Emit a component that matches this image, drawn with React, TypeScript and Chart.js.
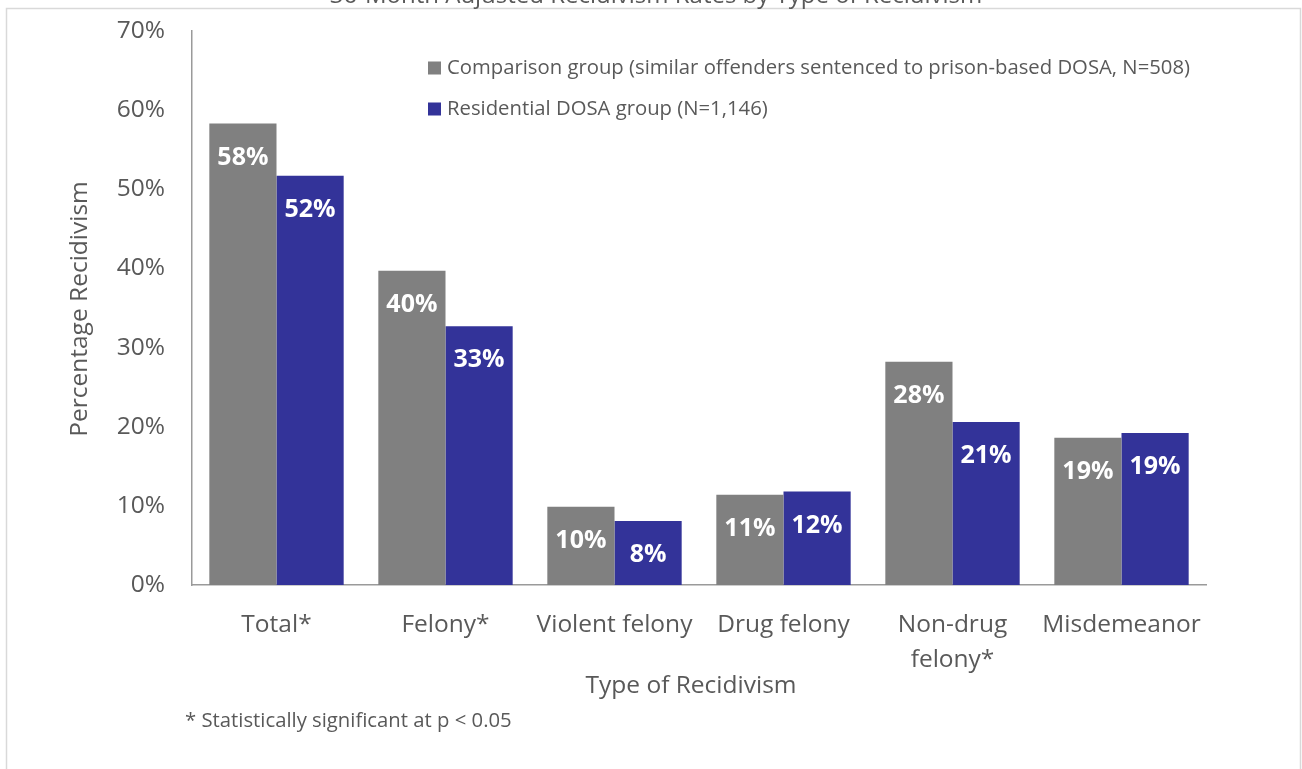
import React, { useEffect, useRef } from "react";
import { Chart, registerables } from "chart.js";

Chart.register(...registerables);

const chartTitle = "36-Month Adjusted Recidivism Rates by Type of Recidivism";
const categories: (string | string[])[] = [
  "Total*",
  "Felony*",
  "Violent felony",
  "Drug felony",
  ["Non-drug", "felony*"],
  "Misdemeanor",
];
const seriesNames = [
  "Comparison group (similar offenders sentenced to prison-based DOSA, N=508)",
  "Residential DOSA group (N=1,146)",
];
const comparisonValues = [58.3, 39.7, 9.9, 11.4, 28.2, 18.6];
const residentialValues = [51.7, 32.7, 8.1, 11.8, 20.6, 19.2];
const comparisonLabels = ["58%", "40%", "10%", "11%", "28%", "19%"];
const residentialLabels = ["52%", "33%", "8%", "12%", "21%", "19%"];
const yTicks = [0, 10, 20, 30, 40, 50, 60, 70];
const yAxisTitle = "Percentage Recidivism";
const xAxisTitle = "Type of Recidivism";
const footnote = "* Statistically significant at p < 0.05";

const GRAY = "#808080";
const BLUE = "#333399";
const TEXT = "#595959";
const FONT = "'Open Sans', 'Noto Sans', sans-serif";

const W = 1302;
const H = 769;
const PLOT_LEFT = 192;
const PLOT_RIGHT = 1206;
const PLOT_TOP = 31;
const PLOT_BOTTOM = 585;

export default function App() {
  const ref = useRef<HTMLCanvasElement | null>(null);

  useEffect(() => {
    document.body.style.margin = "0";
    const canvas = ref.current;
    if (!canvas) return;
    const valueLabels = [comparisonLabels, residentialLabels];

    const decor = {
      id: "decor",
      beforeDraw(chart: any) {
        const ctx = chart.ctx;
        ctx.save();
        ctx.fillStyle = "#ffffff";
        ctx.fillRect(0, 0, W, H);
        ctx.strokeStyle = "#d9d9d9";
        ctx.lineWidth = 1.5;
        ctx.strokeRect(6.5, 8.5, 1294, 800);
        ctx.fillStyle = TEXT;
        ctx.font = `24px ${FONT}`;
        ctx.textAlign = "center";
        ctx.textBaseline = "alphabetic";
        ctx.fillText(chartTitle, 656, 3);
        ctx.restore();
      },
      afterDatasetsDraw(chart: any) {
        const ctx = chart.ctx;
        ctx.save();
        ctx.fillStyle = "#ffffff";
        ctx.font = `bold 25px ${FONT}`;
        ctx.textAlign = "center";
        ctx.textBaseline = "middle";
        chart.data.datasets.forEach((ds: any, di: number) => {
          const meta = chart.getDatasetMeta(di);
          meta.data.forEach((bar: any, i: number) => {
            ctx.fillText(valueLabels[di][i], bar.x, bar.y + 34);
          });
        });
        ctx.restore();
      },
      afterDraw(chart: any) {
        const ctx = chart.ctx;
        ctx.save();
        // legend
        ctx.font = `20.3px ${FONT}`;
        ctx.textAlign = "left";
        ctx.textBaseline = "middle";
        const legendY = [68, 109];
        chart.data.datasets.forEach((ds: any, di: number) => {
          ctx.fillStyle = ds.backgroundColor;
          ctx.fillRect(428, legendY[di] - 6.5, 13, 13);
          ctx.fillStyle = TEXT;
          ctx.fillText(ds.label, 447, legendY[di]);
        });
        // axis titles
        ctx.font = `24.5px ${FONT}`;
        ctx.textAlign = "center";
        ctx.fillStyle = TEXT;
        ctx.fillText(xAxisTitle, 691, 686);
        ctx.save();
        ctx.translate(80, 309);
        ctx.rotate(-Math.PI / 2);
        ctx.fillText(yAxisTitle, 0, 0);
        ctx.restore();
        // footnote
        ctx.font = `20.3px ${FONT}`;
        ctx.textAlign = "left";
        ctx.fillText(footnote, 185, 721);
        ctx.restore();
      },
    };

    const chart = new Chart(canvas, {
      type: "bar",
      data: {
        labels: categories,
        datasets: [
          {
            label: seriesNames[0],
            data: comparisonValues,
            backgroundColor: GRAY,
            borderWidth: 0,
            categoryPercentage: 0.795,
            barPercentage: 1.0,
          },
          {
            label: seriesNames[1],
            data: residentialValues,
            backgroundColor: BLUE,
            borderWidth: 0,
            categoryPercentage: 0.795,
            barPercentage: 1.0,
          },
        ],
      },
      options: {
        responsive: false,
        animation: false,
        devicePixelRatio: 1,
        layout: {
          padding: { left: 0, right: W - PLOT_RIGHT, top: PLOT_TOP, bottom: 0 },
        },
        plugins: {
          legend: { display: false },
          title: { display: false },
          tooltip: { enabled: false },
        },
        scales: {
          x: {
            grid: { display: false, drawTicks: false },
            border: { display: true, color: "#9a9a9a", width: 1.5 },
            ticks: {
              color: TEXT,
              font: { family: FONT, size: 24.5, lineHeight: 1.43 },
              padding: 22,
              maxRotation: 0,
              autoSkip: false,
            },
            afterFit(scale: any) {
              scale.height = H - PLOT_BOTTOM;
              scale.paddingLeft = 0;
              scale.paddingRight = 0;
            },
          },
          y: {
            min: 0,
            max: 70,
            afterBuildTicks(scale: any) {
              scale.ticks = yTicks.map((v) => ({ value: v }));
            },
            grid: { display: false, drawTicks: false },
            border: { display: true, color: "#9a9a9a", width: 1.5 },
            ticks: {
              color: TEXT,
              font: { family: FONT, size: 24.5 },
              padding: 27,
              callback: (v: any) => `${v}%`,
            },
            afterFit(scale: any) {
              scale.width = PLOT_LEFT;
              scale.paddingTop = 0;
              scale.paddingBottom = 0;
            },
          },
        },
      },
      plugins: [decor],
    });

    return () => chart.destroy();
  }, []);

  return (
    <div style={{ position: "fixed", left: 0, top: 0, width: W, height: H }}>
      <canvas ref={ref} width={W} height={H} style={{ width: W, height: H, display: "block" }} />
    </div>
  );
}
